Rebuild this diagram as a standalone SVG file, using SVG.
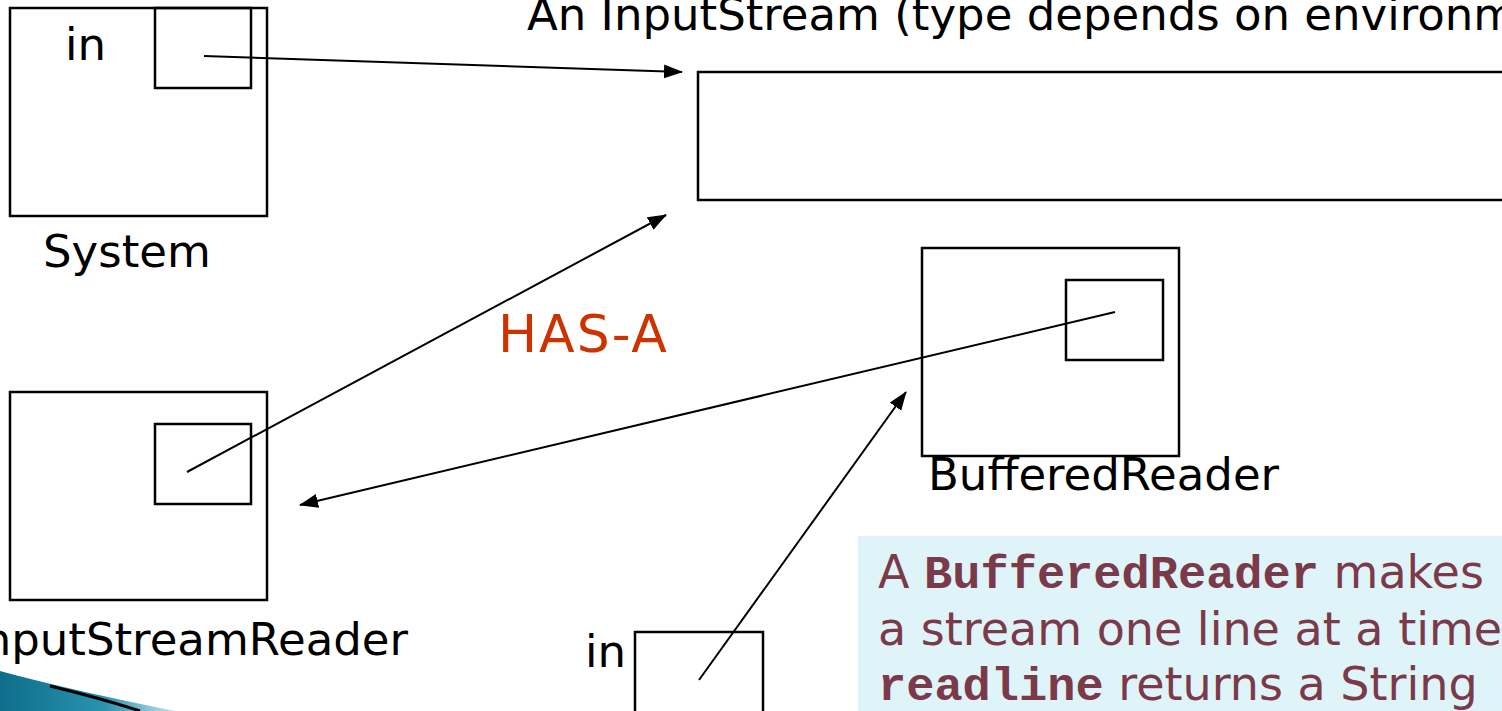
<svg xmlns="http://www.w3.org/2000/svg" width="1502" height="711" viewBox="0 0 1502 711">
  <style>
    .box { fill: none; stroke: #000; stroke-width: 2.5; }
    .lbl { font-family: "DejaVu Sans", "Liberation Sans", sans-serif; font-size: 45px; fill: #000; }
    .conn { stroke: #000; stroke-width: 2; fill: none; marker-end: url(#arrow); }
    .note { font-family: "DejaVu Sans", "Liberation Sans", sans-serif; font-size: 46px; fill: #7b3a4a; }
    .code { font-family: "Liberation Mono", "Courier New", monospace; font-weight: bold; font-size: 47px; }
  </style>
  <defs>
    <marker id="arrow" markerUnits="userSpaceOnUse" markerWidth="20" markerHeight="16" refX="18" refY="7" orient="auto">
      <path d="M0,0 L19,7 L0,14 Z" fill="#000"/>
    </marker>
    <linearGradient id="teal" x1="0" y1="0" x2="1" y2="0">
      <stop offset="0" stop-color="#0d6e8a"/>
      <stop offset="0.6" stop-color="#2a93b0"/>
      <stop offset="1" stop-color="#bfe3ee"/>
    </linearGradient>
  </defs>
  <rect width="1502" height="711" fill="#fff"/>

  <g id="ribbon">
    <path d="M0,671 Q70,690 175,711 L0,711 Z" fill="url(#teal)"/>
    <path d="M50,686 Q100,698 140,711" stroke="#000" stroke-width="3" fill="none"/>
  </g>

  <g id="title">
    <text class="lbl" x="527" y="30">An InputStream (type depends on environment)</text>
  </g>

  <g id="system">
    <rect class="box" x="10" y="8" width="257" height="208"/>
    <rect class="box" x="155" y="8" width="96" height="80"/>
    <text class="lbl" x="65" y="60" font-size="50">in</text>
    <text class="lbl" x="43" y="267">System</text>
  </g>

  <g id="inputstream">
    <rect class="box" x="698" y="72" width="830" height="128"/>
  </g>

  <g id="inputstreamreader">
    <rect class="box" x="10" y="392" width="257" height="208"/>
    <rect class="box" x="155" y="424" width="96" height="80"/>
    <text class="lbl" x="408" y="655" text-anchor="end">InputStreamReader</text>
  </g>

  <g id="bufferedreader">
    <rect class="box" x="922" y="248" width="257" height="208"/>
    <rect class="box" x="1066" y="280" width="97" height="80"/>
    <text class="lbl" x="928" y="490">BufferedReader</text>
  </g>

  <g id="inbox">
    <rect class="box" x="635" y="632" width="128" height="100"/>
    <text class="lbl" x="585" y="667" font-size="40">in</text>
  </g>

  <g id="hasa">
    <text x="498" y="352" font-family="DejaVu Sans, Liberation Sans, sans-serif" font-size="52" letter-spacing="2" fill="#cc3300">HAS-A</text>
  </g>

  <g id="callout">
    <rect x="858" y="536" width="660" height="180" fill="#def4f8"/>
    <text class="note" x="878" y="588">A <tspan class="code">BufferedReader</tspan> makes</text>
    <text class="note" x="878" y="645">a stream one line at a time</text>
    <text class="note" x="878" y="700"><tspan class="code">readline</tspan> returns a String</text>
  </g>

  <g id="connectors">
    <line class="conn" x1="204" y1="56" x2="682" y2="72"/>
    <line class="conn" x1="187" y1="472" x2="666" y2="215"/>
    <line class="conn" x1="1115" y1="312" x2="300" y2="505"/>
    <line class="conn" x1="699" y1="680" x2="906" y2="392"/>
  </g>
</svg>
